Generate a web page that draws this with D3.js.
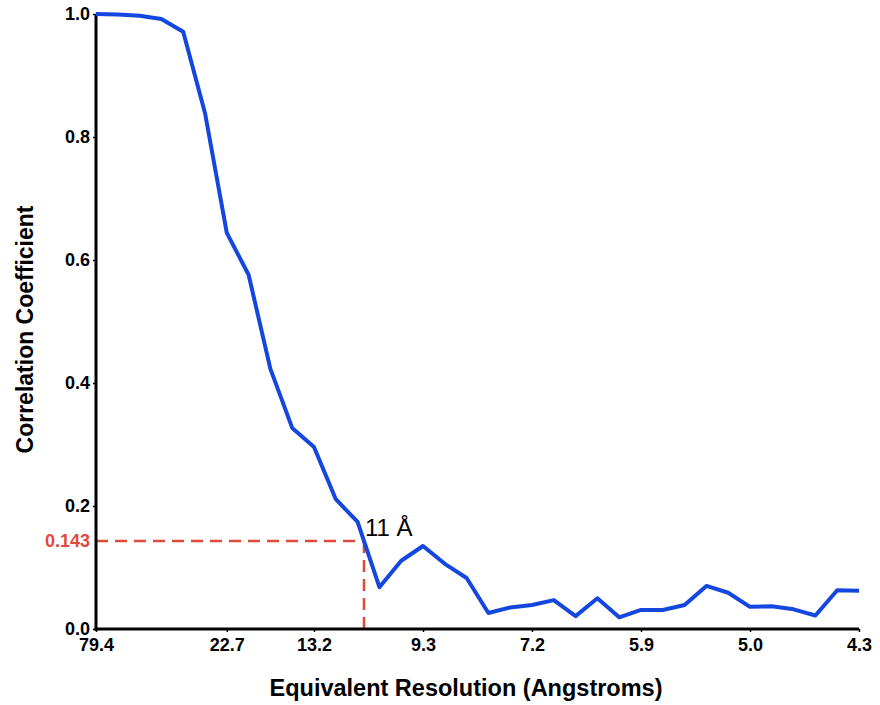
<!DOCTYPE html>
<html>
<head>
<meta charset="utf-8">
<script src="https://cdn.jsdelivr.net/npm/d3@7"></script>
<style>
  body { margin: 0; background: #fff; }
  svg { font-family: "Liberation Sans", Arial, Helvetica, sans-serif; }
</style>
</head>
<body>
<div id="vis"></div>
<script>
const WIDTH = 880
const HEIGHT = 705
const margin = {top: 14, right: 21, bottom: 76, left: 96}

// FSC curve, one value per shell
const fsc = [
	1.000, 0.999, 0.997, 0.992, 0.971, 0.839, 0.644, 0.576, 0.423, 0.327,
	0.296, 0.211, 0.174, 0.068, 0.111, 0.135, 0.106, 0.083, 0.026, 0.035,
	0.039, 0.047, 0.021, 0.050, 0.019, 0.031, 0.031, 0.039, 0.070, 0.059,
	0.036, 0.037, 0.032, 0.022, 0.063, 0.062
]
const tickShells = [0, 6, 10, 15, 20, 25, 30, 35]
const tickLabels = ['79.4', '22.7', '13.2', '9.3', '7.2', '5.9', '5.0', '4.3']
const yTicks = [0, 0.2, 0.4, 0.6, 0.8, 1.0]
const threshold = 0.143
const resLabel = '11 Å'

let svg = d3.select('#vis')
	.append('svg')
	.attr('width', WIDTH)
	.attr('height', HEIGHT)

let x = d3.scaleLinear()
	.domain([0, fsc.length - 1])
	.range([margin.left, WIDTH - margin.right])

let y = d3.scaleLinear()
	.domain([0, 1])
	.range([HEIGHT - margin.bottom, margin.top])

// where the curve crosses the threshold
let cross = 0
for (let i = 0; i < fsc.length - 1; i++) {
	if (fsc[i] >= threshold && fsc[i + 1] < threshold) {
		cross = i + (fsc[i] - threshold) / (fsc[i] - fsc[i + 1])
		break
	}
}

// red threshold lines
svg.append('line')
	.attr('x1', x(0)).attr('x2', x(cross))
	.attr('y1', y(threshold)).attr('y2', y(threshold))
	.attr('stroke', '#e04a3c')
	.attr('stroke-width', 2.5)
	.attr('stroke-dasharray', '12,7')

svg.append('line')
	.attr('x1', x(cross)).attr('x2', x(cross))
	.attr('y1', y(threshold)).attr('y2', y(0))
	.attr('stroke', '#e04a3c')
	.attr('stroke-width', 2.5)
	.attr('stroke-dasharray', '12,7')

// axes
let xAxis = d3.axisBottom(x)
	.tickValues(tickShells)
	.tickFormat((d, i) => tickLabels[i])
	.tickSize(3)
	.tickPadding(6)

svg.append('g')
	.attr('class', 'x-axis')
	.attr('transform', `translate(0,${y(0)})`)
	.call(xAxis)
	.call(g => g.select('.domain').attr('stroke-width', 3).attr('d', `M${x(0) - 1.5},0H${x(fsc.length - 1)}`))
	.call(g => g.selectAll('.tick line').attr('stroke-width', 1.5))
	.call(g => g.selectAll('.tick text')
		.style('font-size', '18px')
		.style('font-weight', 'bold')
		.attr('fill', '#000'))

let yAxis = d3.axisLeft(y)
	.tickValues(yTicks)
	.tickFormat(d3.format('.1f'))
	.tickSize(3)
	.tickPadding(3)

svg.append('g')
	.attr('class', 'y-axis')
	.attr('transform', `translate(${x(0)},0)`)
	.call(yAxis)
	.call(g => g.select('.domain').attr('stroke-width', 3).attr('d', `M0,${y(1)}V${y(0) + 1.5}`))
	.call(g => g.selectAll('.tick line').attr('stroke-width', 1.5))
	.call(g => g.selectAll('.tick text')
		.style('font-size', '18px')
		.style('font-weight', 'bold')
		.attr('fill', '#000'))

// threshold label on y axis
svg.append('text')
	.attr('x', x(0) - 6)
	.attr('y', y(threshold))
	.attr('dy', '0.35em')
	.attr('text-anchor', 'end')
	.attr('fill', '#e04a3c')
	.style('font-size', '18px')
	.style('font-weight', 'bold')
	.text(threshold)

// curve
let line = d3.line()
	.x((d, i) => x(i))
	.y(d => y(d))

svg.append('path')
	.datum(fsc)
	.attr('fill', 'none')
	.attr('stroke', '#1447e0')
	.attr('stroke-width', 4)
	.attr('stroke-linejoin', 'round')
	.attr('d', line)

svg.append('text')
	.attr('x', x(cross) + 1)
	.attr('y', y(threshold) - 5)
	.style('font-size', '24px')
	.attr('fill', '#000')
	.text(resLabel)

// axis titles
svg.append('text')
	.attr('x', 466)
	.attr('y', 696)
	.attr('text-anchor', 'middle')
	.style('font-size', '23.5px')
	.style('font-weight', 'bold')
	.text('Equivalent Resolution (Angstroms)')

svg.append('text')
	.attr('transform', `translate(33,${(y(0) + y(1)) / 2 + 8}) rotate(-90)`)
	.attr('text-anchor', 'middle')
	.style('font-size', '23px')
	.style('font-weight', 'bold')
	.text('Correlation Coefficient')
</script>
</body>
</html>
